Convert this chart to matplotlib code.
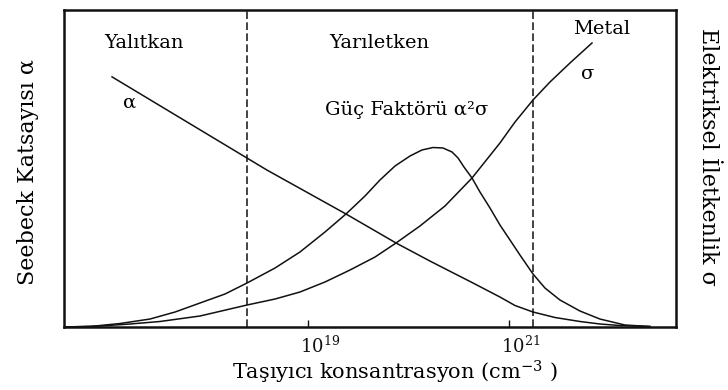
import numpy as np
import matplotlib as mpl
import matplotlib.pyplot as plt
from matplotlib.transforms import ScaledTranslation

mpl.rcParams['font.family'] = ['DejaVu Serif']
mpl.rcParams['mathtext.fontset'] = 'dejavuserif'

# log10 of carrier concentration (cm^-3), arbitrary y units (0-100)
alpha_x = [17.050, 18.592, 19.378, 19.876, 20.214, 20.642, 20.910, 21.060, 21.239,
           21.458, 21.706, 21.905, 22.104, 22.403]
alpha_y = [78.9, 49.5, 35.65, 26.50, 20.8, 13.88, 9.46, 6.78, 4.73,
           3.00, 1.74, 0.95, 0.47, 0.16]

pf_x = [16.572, 16.831, 17.129, 17.428, 17.677, 17.925, 18.174, 18.393, 18.672, 18.920,
        19.169, 19.378, 19.567, 19.716, 19.866, 20.015, 20.134, 20.244, 20.343, 20.433,
        20.493, 20.552, 20.632, 20.711, 20.811, 20.910, 21.010, 21.109, 21.239, 21.358,
        21.507, 21.706, 21.905, 22.154, 22.403]
pf_y = [0.0, 0.16, 1.10, 2.52, 4.73, 7.57, 10.41, 13.88, 18.61, 23.66,
        29.97, 35.65, 41.32, 46.37, 50.79, 53.94, 55.84, 56.62, 56.47, 55.21,
        53.31, 50.47, 47.00, 42.59, 37.54, 32.18, 27.44, 22.71, 16.72, 12.30,
        8.52, 5.05, 2.52, 0.63, 0.16]

sigma_x = [16.572, 16.930, 17.229, 17.527, 17.925, 18.393, 18.672, 18.920, 19.169, 19.418,
           19.667, 19.876, 20.114, 20.363, 20.632, 20.910, 21.060, 21.239, 21.408, 21.607,
           21.826]
sigma_y = [0.0, 0.32, 0.95, 1.74, 3.47, 6.94, 8.83, 11.04, 14.20, 17.98,
           22.08, 26.50, 31.86, 38.17, 47.00, 58.04, 64.67, 71.61, 77.29, 83.28,
           89.59]

region_edges = [18.39, 21.24]
tick_pos = [19, 21]
tick_labels = [r'$10^{19}$', r'$10^{21}$']

fig = plt.figure(figsize=(7.28, 3.9), dpi=100)
fig.patch.set_color('white')
ax = fig.add_axes([0.0879, 0.1615, 0.8407, 0.8129])

lw = 1.1
for xs, ys in ((alpha_x, alpha_y), (pf_x, pf_y), (sigma_x, sigma_y)):
    ax.plot(xs, ys, color='#111111', lw=lw, solid_joinstyle='round')
for xe in region_edges:
    ax.axvline(xe, color='#111111', lw=1.1, dashes=(5, 2.2))

ax.set_xlim(16.572, 22.662)
ax.set_ylim(0, 100)
for s in ax.spines.values():
    s.set_linewidth(1.8)
    s.set_color('#111111')

ax.set_yticks([])
ax.set_xticks(tick_pos)
ax.set_xticklabels(tick_labels, fontsize=13)
ax.tick_params(axis='x', direction='in', length=5, width=1, pad=6, colors='#111111')
for lab in ax.get_xticklabels():
    lab.set_transform(lab.get_transform() + ScaledTranslation(0.12, 0, fig.dpi_scale_trans))

fs = 14
ax.text(0.13, 0.896, 'Yalıtkan', transform=ax.transAxes, fontsize=fs, ha='center', va='center')
ax.text(0.515, 0.896, 'Yarıletken', transform=ax.transAxes, fontsize=fs, ha='center', va='center')
ax.text(0.879, 0.94, 'Metal', transform=ax.transAxes, fontsize=fs, ha='center', va='center')
ax.text(0.108, 0.707, 'α', transform=ax.transAxes, fontsize=fs, ha='center', va='center')
ax.text(0.856, 0.797, 'σ', transform=ax.transAxes, fontsize=fs, ha='center', va='center')
ax.text(0.560, 0.685, 'Güç Faktörü α²σ', transform=ax.transAxes, fontsize=fs, ha='center', va='center')

fig.text(28 / 728, 1 - 172 / 390, 'Seebeck Katsayısı α', rotation=90,
         fontsize=16, ha='center', va='center')
fig.text(708 / 728, 1 - 157 / 390, 'Elektriksel İletkenlik σ', rotation=-90,
         fontsize=16, ha='center', va='center')
fig.text(395 / 728, 1 - 372 / 390, 'Taşıyıcı konsantrasyon (cm$^{-3}$ )',
         fontsize=15, ha='center', va='center')

plt.savefig('out.png', dpi=100)
